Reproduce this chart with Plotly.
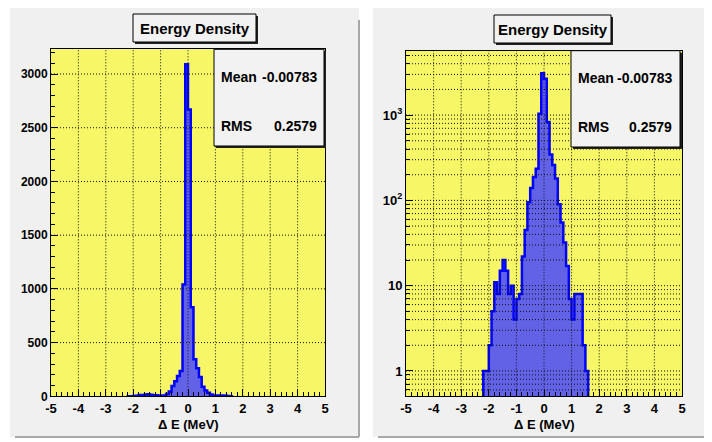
import math
import plotly.graph_objects as go

# ---------------- data ----------------
bin_lo = -2.2
bin_w = 0.1
counts = [1, 1, 2, 5, 11, 8, 15, 20, 15, 8,
          10, 4, 7, 8, 22, 45, 95, 140, 188, 235,
          1040, 3090, 2670, 830, 345, 260, 180, 90, 55, 32,
          17, 7, 4, 8, 8, 8, 2, 1]
x_tickvals = [-5, -4, -3, -2, -1, 0, 1, 2, 3, 4, 5]
x_ticktext = ["-5", "-4", "-3", "-2", "-1", "0", "1", "2", "3", "4", "5"]
lin_tickvals = [0, 500, 1000, 1500, 2000, 2500, 3000]
log_tickvals = [1, 10, 100, 1000]
log_ticktext = ["1", "10", "10<sup>2</sup>", "10<sup>3</sup>"]
title_text = "Energy Density"
stat_labels = ["Mean", "RMS"]
stat_values = ["-0.00783", "0.2579"]
x_title = "\u0394 E (MeV)"

# ---------------- geometry helpers ----------------
# the page body has an 8px margin, so the figure starts at (8, 8) in the window
OFF = 8
W, H = 712, 442
def PX(x):
    return (x - OFF) / W
def PY(y):
    return 1 - (y - OFF) / H

edges = [bin_lo + bin_w * i for i in range(len(counts) + 1)]

def step_xy(base):
    xs = [edges[0]] + edges[:-1] + [edges[-1]]
    ys = [base] + counts + [base]
    return xs, ys

LIN_RANGE = [0, 3230]
LOG_RANGE = [-0.297, 3.755]

FILL = "#6262e6"
LINE = "#0000ff"
YELLOW = "#f6f666"
PANEL = "#f0f0f0"

fig = go.Figure()
xs, ys = step_xy(0)
fig.add_trace(go.Scatter(x=xs, y=ys, mode="lines", line=dict(shape="hv", color=LINE, width=2.5),
                         fill="toself", fillcolor=FILL, xaxis="x", yaxis="y", hoverinfo="skip"))
xs2, ys2 = step_xy(0.1)
fig.add_trace(go.Scatter(x=xs2, y=ys2, mode="lines", line=dict(shape="hv", color=LINE, width=2.5),
                         fill="toself", fillcolor=FILL, xaxis="x2", yaxis="y2", hoverinfo="skip"))

font = dict(family="Liberation Sans, Arial, sans-serif", color="black", weight="bold")

def xax(domain, anchor):
    return dict(domain=domain, anchor=anchor, range=[-5, 5], tickmode="array",
                tickvals=x_tickvals, ticktext=x_ticktext, ticks="inside", ticklen=7,
                tickcolor="black", tickwidth=1, automargin=False,
                minor=dict(dtick=0.2, tick0=-5, ticks="inside", ticklen=4, tickcolor="black"),
                showline=True, linecolor="black", linewidth=1, mirror=True,
                showgrid=False, zeroline=False, layer="above traces",
                tickfont=dict(size=13, **font), fixedrange=True)

left_dom_x = [PX(51), PX(325)]
right_dom_x = [PX(406), PX(682)]
left_dom_y = [PY(396.3), PY(49.3)]
right_dom_y = [PY(396.3), PY(50.7)]

minor_log = []
for d in range(-1, 4):
    for m in range(2, 10):
        v = m * 10 ** d
        if LOG_RANGE[0] < math.log10(v) < LOG_RANGE[1]:
            minor_log.append(v)

fig.update_layout(
    width=W, height=H, margin=dict(l=0, r=0, t=0, b=0, autoexpand=False),
    paper_bgcolor="white", plot_bgcolor=YELLOW, showlegend=False,
    font=font,
    xaxis=xax(left_dom_x, "y"),
    xaxis2=xax(right_dom_x, "y2"),
    yaxis=dict(domain=left_dom_y, anchor="x", range=LIN_RANGE, tickmode="array",
               tickvals=lin_tickvals, ticks="inside", ticklen=7, tickcolor="black",
               automargin=False,
               minor=dict(dtick=100, tick0=0, ticks="inside", ticklen=4, tickcolor="black"),
               showline=True, linecolor="black", linewidth=1, mirror=True,
               showgrid=False, zeroline=False, layer="above traces",
               tickfont=dict(size=12, **font), fixedrange=True),
    yaxis2=dict(domain=right_dom_y, anchor="x2", type="log", range=LOG_RANGE, tickmode="array",
                tickvals=log_tickvals, ticktext=log_ticktext, ticks="inside", ticklen=7,
                tickcolor="black", automargin=False,
                minor=dict(tickmode="array", tickvals=minor_log, ticks="inside", ticklen=4,
                           tickcolor="black"),
                showline=True, linecolor="black", linewidth=1, mirror=True,
                showgrid=False, zeroline=False, layer="above traces",
                tickfont=dict(size=13, **font), fixedrange=True),
)

shapes = []
# panel backgrounds
for (x0, x1) in [(10, 359), (373, 711)]:
    shapes.append(dict(type="rect", xref="paper", yref="paper", x0=PX(x0), x1=PX(x1),
                       y0=PY(437), y1=PY(7), fillcolor=PANEL, line=dict(width=0), layer="below"))
    shapes.append(dict(type="line", xref="paper", yref="paper", x0=PX(x1), x1=PX(x1),
                       y0=PY(437), y1=PY(20), line=dict(color="#a8a8a8", width=2), layer="below"))
    shapes.append(dict(type="line", xref="paper", yref="paper", x0=PX(x0 + 5), x1=PX(x1),
                       y0=PY(437), y1=PY(437), line=dict(color="#a8a8a8", width=2), layer="below"))
# yellow plot frames
for xr, yr in [("x domain", "y domain"), ("x2 domain", "y2 domain")]:
    shapes.append(dict(type="rect", xref=xr, yref=yr, x0=0, x1=1, y0=0, y1=1,
                       fillcolor=YELLOW, line=dict(width=0), layer="below"))

GRID = dict(color="#111111", width=1, dash="1px,2px")
# grid lines (drawn above the histogram like in the original)
for xr, yr in [("x", "y domain"), ("x2", "y2 domain")]:
    for v in x_tickvals[1:-1]:
        shapes.append(dict(type="line", xref=xr, yref=yr, x0=v, x1=v, y0=0, y1=1,
                           line=GRID, layer="above"))
for v in lin_tickvals[1:]:
    shapes.append(dict(type="line", xref="x domain", yref="y", x0=0, x1=1, y0=v, y1=v,
                       line=GRID, layer="above"))
for v in sorted(log_tickvals + minor_log):
    f = (math.log10(v) - LOG_RANGE[0]) / (LOG_RANGE[1] - LOG_RANGE[0])
    shapes.append(dict(type="line", xref="x2 domain", yref="y2 domain", x0=0, x1=1, y0=f, y1=f,
                       line=GRID, layer="above"))

def box(x0, y0, x1, y1):
    shapes.append(dict(type="rect", xref="paper", yref="paper", x0=PX(x0 + 2), x1=PX(x1 + 2),
                       y0=PY(y1 + 2), y1=PY(y0 + 2), fillcolor="#222222",
                       line=dict(width=0), layer="above"))
    shapes.append(dict(type="rect", xref="paper", yref="paper", x0=PX(x0), x1=PX(x1),
                       y0=PY(y1), y1=PY(y0), fillcolor="#f2f2f2",
                       line=dict(color="black", width=1), layer="above"))

# title boxes
box(133, 14, 256, 42)
box(494, 15, 611, 43)
# stats boxes
box(214, 49.3, 324, 146)
box(571, 50.7, 680, 147)
fig.update_layout(shapes=shapes)

ann = []
def text(x, y, s, size, xanchor="center"):
    ann.append(dict(xref="paper", yref="paper", x=PX(x), y=PY(y), text="<b>" + s + "</b>",
                    showarrow=False, xanchor=xanchor, yanchor="middle",
                    font=dict(size=size, **font)))

text(194.5, 28.5, title_text, 15)
text(552.5, 29.5, title_text, 15)
for (xl, xr, yoff) in [(219, 319, 0), (576, 674, 1)]:
    for i, (lab, val) in enumerate(zip(stat_labels, stat_values)):
        yy = 76.5 + yoff + i * 50
        text(xl, yy, lab, 14, "left")
        text(xr, yy, val, 14, "right")
text(188, 424, x_title, 13)
text(544, 424, x_title, 13)
fig.update_layout(annotations=ann)

fig.write_html("out.html")
